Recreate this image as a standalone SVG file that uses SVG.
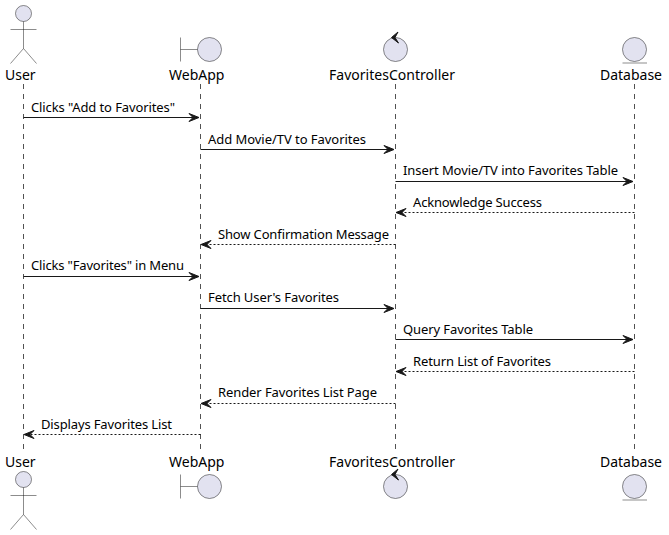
<svg xmlns="http://www.w3.org/2000/svg" width="669" height="535" viewBox="0 0 669 535">
<style>
text{font-family:"Noto Sans","DejaVu Sans",sans-serif;fill:#000}
.p{font-size:14px}
.m{font-size:13px}
.l{stroke:#181818;stroke-width:1;stroke-dasharray:5,5;fill:none;opacity:.75}
.s{fill:#E2E2F0;stroke:#181818;stroke-width:.5}
.o{fill:none;stroke:#181818;stroke-width:.5}
.c{stroke:#181818;stroke-width:1;fill:none}
.d{stroke-dasharray:2,2}
.h{fill:#181818;stroke:#181818}
</style>
<defs>
<g id="actor"><circle class="s" cx="23.5" cy="13.5" r="8"/><path class="o" d="M23.5 21.5V48.5M10.5 29.5H36.5M23.5 48.5L10.5 63.5M23.5 48.5L36.5 63.5"/></g>
<g id="boundary"><circle class="s" cx="209.5" cy="49.5" r="12"/><path class="o" d="M180.5 37.5V61.5M180.5 49.5H197.5"/></g>
<g id="control"><circle class="s" cx="395.5" cy="49.5" r="12"/><path class="h" d="M398 32L391.5 37.5L398.5 43L395 37.5Z"/></g>
<g id="entity"><circle class="s" cx="634.5" cy="49.5" r="12"/><path class="o" d="M622.5 63H647"/></g>
</defs>
<g id="connectors">
<path class="l" d="M23.5 84V450M200.5 84V450M395.5 84V450M634.5 84V450"/>
<path class="c" d="M23.5 117.5H198"/><path class="h" d="M189 113.5L199 117.5L189 121.5L193 117.5Z"/>
<path class="c" d="M200.5 149.5H393"/><path class="h" d="M384 145.5L394 149.5L384 153.5L388 149.5Z"/>
<path class="c" d="M395.5 181.5H632"/><path class="h" d="M623 177.5L633 181.5L623 185.5L627 181.5Z"/>
<path class="c d" d="M634.5 212.5H397"/><path class="h" d="M406 208.5L396 212.5L406 216.5L402 212.5Z"/>
<path class="c d" d="M395.5 244.5H202"/><path class="h" d="M211 240.5L201 244.5L211 248.5L207 244.5Z"/>
<path class="c" d="M23.5 276.5H198"/><path class="h" d="M189 272.5L199 276.5L189 280.5L193 276.5Z"/>
<path class="c" d="M200.5 308.5H393"/><path class="h" d="M384 304.5L394 308.5L384 312.5L388 308.5Z"/>
<path class="c" d="M395.5 339.5H632"/><path class="h" d="M623 335.5L633 339.5L623 343.5L627 339.5Z"/>
<path class="c d" d="M634.5 371.5H397"/><path class="h" d="M406 367.5L396 371.5L406 375.5L402 371.5Z"/>
<path class="c d" d="M395.5 403.5H202"/><path class="h" d="M211 399.5L201 403.5L211 407.5L207 403.5Z"/>
<path class="c d" d="M200.5 434.5H25"/><path class="h" d="M34 430.5L24 434.5L34 438.5L30 434.5Z"/>
</g>
<g id="messages">
<text class="m" x="31" y="112" textLength="144">Clicks "Add to Favorites"</text>
<text class="m" x="208" y="144" textLength="158">Add Movie/TV to Favorites</text>
<text class="m" x="403" y="175" textLength="215">Insert Movie/TV into Favorites Table</text>
<text class="m" x="413" y="207" textLength="129">Acknowledge Success</text>
<text class="m" x="218" y="239" textLength="171">Show Confirmation Message</text>
<text class="m" x="31" y="270" textLength="153">Clicks "Favorites" in Menu</text>
<text class="m" x="208" y="302" textLength="131">Fetch User's Favorites</text>
<text class="m" x="403" y="334" textLength="130">Query Favorites Table</text>
<text class="m" x="413" y="366" textLength="138">Return List of Favorites</text>
<text class="m" x="218" y="397" textLength="159">Render Favorites List Page</text>
<text class="m" x="41" y="429" textLength="131">Displays Favorites List</text>
</g>
<g id="user"><use href="#actor"/><text class="p" x="5" y="80">User</text></g>
<g id="webapp"><use href="#boundary"/><text class="p" x="169" y="80">WebApp</text></g>
<g id="favoritescontroller"><use href="#control"/><text class="p" x="329" y="80" textLength="126">FavoritesController</text></g>
<g id="database"><use href="#entity"/><text class="p" x="600" y="80" textLength="62">Database</text></g>
<g id="user-bottom"><use href="#actor" y="466"/><text class="p" x="5" y="467">User</text></g>
<g id="webapp-bottom"><use href="#boundary" y="437"/><text class="p" x="169" y="467">WebApp</text></g>
<g id="favoritescontroller-bottom"><use href="#control" y="437"/><text class="p" x="329" y="467" textLength="126">FavoritesController</text></g>
<g id="database-bottom"><use href="#entity" y="437"/><text class="p" x="600" y="467" textLength="62">Database</text></g>
</svg>
